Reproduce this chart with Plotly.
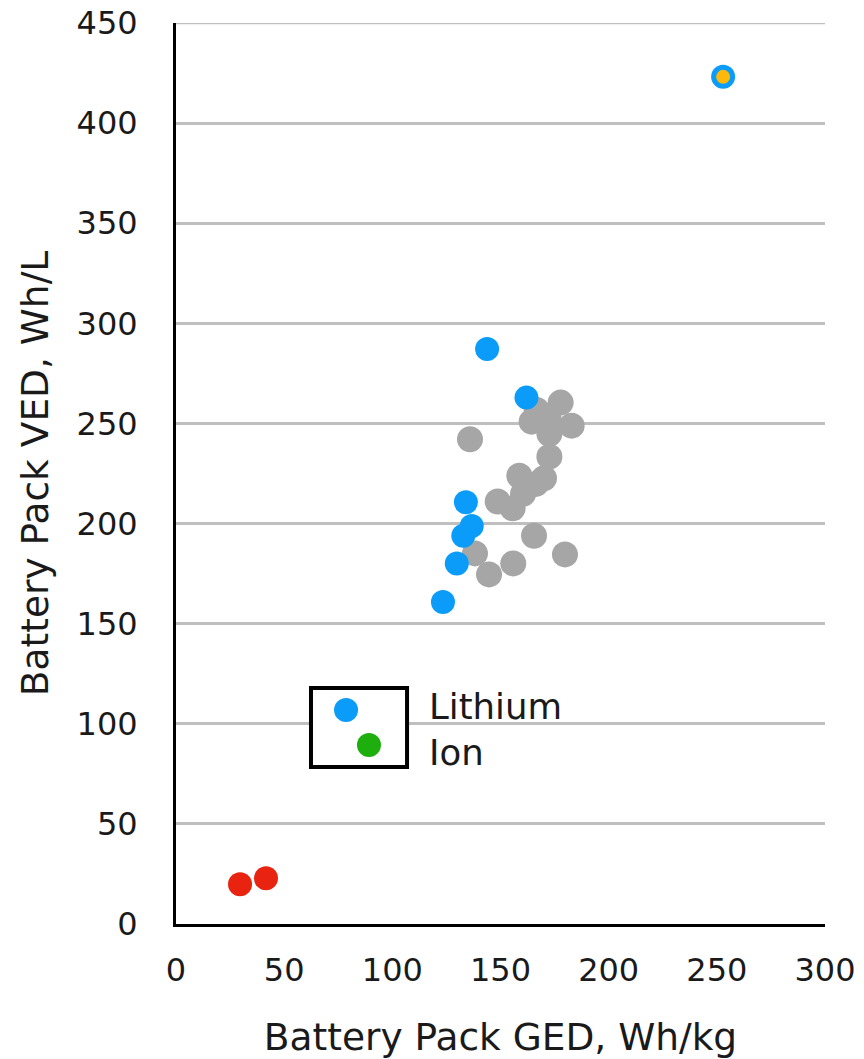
import plotly.graph_objects as go

# Data
blue_x = [143.8, 162.0, 134.0, 136.7, 132.8, 129.8, 123.4]
blue_y = [287.2, 262.9, 210.6, 198.8, 193.9, 180.1, 160.8]

gray_x = [177.8, 166.7, 164.4, 182.9, 172.2, 172.6, 135.9, 172.6, 170.1, 158.7,
          166.4, 160.4, 148.7, 155.6, 165.5, 138.2, 179.8, 155.9, 144.7]
gray_y = [260.4, 256.7, 250.9, 248.9, 252.5, 244.8, 242.1, 233.4, 222.6, 223.9,
          219.8, 214.8, 211.0, 207.6, 193.9, 185.1, 184.6, 180.1, 174.6]

red_x = [29.6, 41.6]
red_y = [19.8, 22.8]

orange_x = [252.9]
orange_y = [423.1]

legend_blue_x = [78.6]
legend_blue_y = [106.9]
legend_green_x = [89.2]
legend_green_y = [89.4]

x_ticks = [0, 50, 100, 150, 200, 250, 300]
y_ticks = [0, 50, 100, 150, 200, 250, 300, 350, 400, 450]

BLUE = "#0A9CF8"
GRAY = "#A6A6A6"
RED = "#E8230F"
GREEN = "#1EAF0E"
ORANGE = "#FDB90A"
FONT = "DejaVu Sans"
TXT = "#1a1a1a"
GRID = "#BFBFBF"

fig = go.Figure()

# top gridline (plotly omits gridlines at the range edge)
fig.add_shape(type="line", xref="paper", x0=0, x1=1, yref="y",
              y0=y_ticks[-1], y1=y_ticks[-1],
              line=dict(color=GRID, width=2.5), layer="below")

fig.add_shape(type="rect", x0=62.4, x1=106.8, y0=78.4, y1=117.9,
              xref="x", yref="y", fillcolor="white",
              line=dict(color="black", width=4), layer="between")

def add(xs, ys, color, size, line=None):
    fig.add_trace(go.Scatter(
        x=xs, y=ys, mode="markers",
        marker=dict(color=color, size=size,
                    line=line or dict(width=0)),
        showlegend=False, hoverinfo="skip", cliponaxis=False))

add(gray_x, gray_y, GRAY, 26)
add(blue_x, blue_y, BLUE, 24)
add(red_x, red_y, RED, 24)
add(orange_x, orange_y, ORANGE, 19, dict(color=BLUE, width=5))
add(legend_blue_x, legend_blue_y, BLUE, 24)
add(legend_green_x, legend_green_y, GREEN, 24)

fig.add_annotation(x=116.0, y=108.5, xref="x", yref="y", text="Lithium",
                   showarrow=False, xanchor="left", yanchor="middle",
                   font=dict(family=FONT, size=35.5, color=TXT))
fig.add_annotation(x=116.0, y=85.5, xref="x", yref="y", text="Ion",
                   showarrow=False, xanchor="left", yanchor="middle",
                   font=dict(family=FONT, size=35.5, color=TXT))

fig.update_layout(
    width=864, height=1059,
    margin=dict(l=168, r=47, t=15, b=143, autoexpand=False),
    paper_bgcolor="white", plot_bgcolor="white",
    font=dict(family=FONT, size=32, color=TXT),
    xaxis=dict(range=[0, 300], tickvals=x_ticks, showgrid=False,
               zeroline=False, showline=True, linecolor="black", linewidth=3,
               ticks="", ticklen=0, tickfont=dict(size=32), ticklabelstandoff=16,
               automargin=False, ticklabeloverflow="allow",
               title=dict(text="Battery Pack GED, Wh/kg", font=dict(size=37.5), standoff=36)),
    yaxis=dict(range=[0, 450], tickvals=y_ticks, showgrid=True,
               gridcolor=GRID, gridwidth=2.5,
               zeroline=False, showline=True, linecolor="black", linewidth=3,
               ticks="", ticklen=0, tickfont=dict(size=32), ticklabelstandoff=29,
               automargin=False, ticklabeloverflow="allow",
               title=dict(text="Battery Pack VED, Wh/L", font=dict(size=37.5), standoff=17)),
)

fig.write_html("out.html")
